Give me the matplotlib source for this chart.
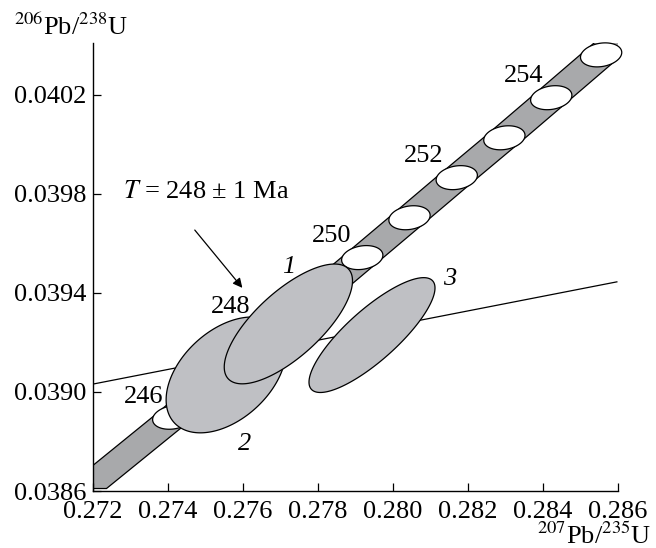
import numpy as np
import matplotlib
matplotlib.use('Agg')
import matplotlib.pyplot as plt

plt.rcParams['font.family'] = ['Liberation Serif', 'DejaVu Serif']
plt.rcParams['mathtext.fontset'] = 'stix'

# concordia age markers (Ma) and their positions
ages = [246, 247, 248, 249, 250, 251, 252, 253, 254, 255]
conc_x = [0.27414, 0.27540, 0.27666, 0.27792, 0.27918, 0.28044, 0.28170, 0.28297, 0.28422, 0.28555]
conc_y = [0.038898, 0.039059, 0.039221, 0.039382, 0.039543, 0.039704, 0.039866, 0.040027, 0.040189, 0.040362]
labelled = [246, 248, 250, 252, 254]

# band end points beyond the markers
band_lo = (0.27180, 0.03861)
band_hi = (0.28600, 0.04042)

# zircon analyses: x, sx, y, sy, rho
pts = ['2', '1', '3']
px = [0.27555, 0.27721, 0.27944]
psx = [0.00160, 0.00171, 0.00168]
py = [0.039069, 0.039275, 0.039230]
psy = [0.000234, 0.000242, 0.000232]
prho = [0.43, 0.72, 0.82]

# discordia
disc_x = [0.2720, 0.28597]
disc_y = [0.039032, 0.039445]


def ellipse(cx, cy, sx, sy, r, n=300):
    t = np.linspace(0, 2 * np.pi, n)
    return cx + sx * np.cos(t), cy + sy * (r * np.cos(t) + np.sqrt(1 - r * r) * np.sin(t))


fig = plt.figure(figsize=(6.56, 5.48), dpi=100)
ax = fig.add_axes([93 / 656, 1 - 491 / 548, 525 / 656, 448 / 548])

# band
bx = np.array([band_lo[0]] + conc_x + [band_hi[0]])
by = np.array([band_lo[1]] + conc_y + [band_hi[1]])
w = 0.00056
polx = np.concatenate([bx - w, (bx + w)[::-1]])
poly = np.concatenate([by, by[::-1]])
ax.fill(polx, poly, facecolor='#a8a9ab', edgecolor='black', lw=0.9, zorder=1)

# age markers
for cx, cy in zip(conc_x, conc_y):
    ex, ey = ellipse(cx, cy, 0.00055, 0.0000485, 0.2)
    ax.fill(ex, ey, facecolor='white', edgecolor='black', lw=0.9, zorder=2, clip_on=False)

# discordia line
ax.plot(disc_x, disc_y, color='black', lw=0.9, zorder=3)

# analyses
for i in range(len(pts)):
    ex, ey = ellipse(px[i], py[i], psx[i], psy[i], prho[i])
    ax.fill(ex, ey, facecolor='#bfc0c4', edgecolor='black', lw=0.9, zorder=4)

fs = 19
lab_pos = {246: (0.27336, 0.038956), 248: (0.27568, 0.039319), 250: (0.27837, 0.039606),
           252: (0.28083, 0.039929), 254: (0.28349, 0.040252)}
for a in labelled:
    ax.text(lab_pos[a][0], lab_pos[a][1], str(a), fontsize=fs, ha='center', va='baseline', zorder=5)

num_pos = {'1': (0.27723, 0.039481), '2': (0.27603, 0.038766), '3': (0.28152, 0.039432)}
for p in pts:
    ax.text(num_pos[p][0], num_pos[p][1], p, fontsize=fs, fontstyle='italic',
            ha='center', va='baseline', zorder=5)

ax.text(0.27501, 0.039784, '$T$ = 248 ± 1 Ma', fontsize=fs, ha='center', va='baseline')
ax.annotate('', xy=(0.27603, 0.039412), xytext=(0.274667, 0.039663),
            arrowprops=dict(arrowstyle='-|>', color='black', lw=0.9, mutation_scale=14))

ax.set_xlim(0.272, 0.286)
ax.set_ylim(0.0386, 0.04041)
xt = [0.272, 0.274, 0.276, 0.278, 0.280, 0.282, 0.284, 0.286]
yt = [0.0386, 0.0390, 0.0394, 0.0398, 0.0402]
ax.set_xticks(xt)
ax.set_xticklabels(['%.3f' % v for v in xt])
ax.set_yticks(yt)
ax.set_yticklabels(['%.4f' % v for v in yt])
ax.tick_params(direction='in', length=5.5, width=0.9, labelsize=fs)
ax.tick_params(axis='x', pad=7)
ax.tick_params(axis='y', pad=5)
ax.spines['top'].set_visible(False)
ax.spines['right'].set_visible(False)
for s in ['left', 'bottom']:
    ax.spines[s].set_linewidth(1.0)

fig.text(14 / 656, 1 - 35 / 548, '$^{206}$Pb/$^{238}$U', fontsize=fs, ha='left', va='baseline')
fig.text(651 / 656, 1 - 544 / 548, '$^{207}$Pb/$^{235}$U', fontsize=fs, ha='right', va='baseline')

fig.savefig('out.png', dpi=100)
